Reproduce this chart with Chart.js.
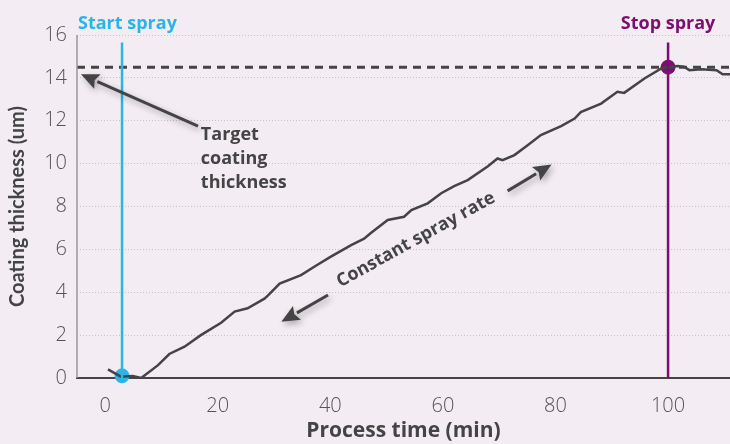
<!DOCTYPE html>
<html lang="en">
  <head>
    <meta charset="UTF-8" />
    <script src="https://cdn.jsdelivr.net/npm/chart.js@4.4.0/dist/chart.umd.min.js"></script>
    <title>Coating thickness</title>
    <style>
      body {
        margin: 0;
        padding: 0;
        background: #f3ecf3;
        overflow: hidden;
      }
      .container {
        width: 730px;
        height: 444px;
      }
    </style>
  </head>
  <body>
    <div class="container">
      <canvas id="chart" width="730" height="444"></canvas>
    </div>
    <script>
      const timeVals = [0.5, 2.8, 4.9, 6.4, 9.4, 11.4, 14.1, 17.0, 20.6, 23.0, 25.3, 28.3, 28.9, 31.0, 34.8, 37.5, 40.1, 43.7, 46.0, 47.2, 50.2, 53.1, 54.4, 57.3, 59.7, 62.0, 64.4, 68.0, 69.7, 70.6, 72.7, 75.0, 77.4, 81.0, 83.4, 84.5, 88.1, 91.0, 92.2, 95.8, 98.8, 100.0, 101.7, 102.8, 103.8, 105.9, 108.6, 109.7, 111.2]
      const thicknessVals = [0.4, 0.06, 0.09, 0, 0.6, 1.12, 1.46, 2.0, 2.58, 3.1, 3.25, 3.7, 3.84, 4.4, 4.8, 5.25, 5.66, 6.2, 6.5, 6.76, 7.37, 7.52, 7.83, 8.15, 8.62, 8.95, 9.23, 9.88, 10.24, 10.16, 10.4, 10.85, 11.33, 11.75, 12.1, 12.4, 12.8, 13.35, 13.3, 13.97, 14.44, 14.5, 14.55, 14.52, 14.36, 14.4, 14.36, 14.17, 14.17]
      const xTickLabels = [0, 20, 40, 60, 80, 100]
      const targetThickness = 14.5
      const startTime = 3
      const stopTime = 100

      const font = '"Open Sans"'
      const dark = '#444444'
      const blue = '#29b5e8'
      const purple = '#7b0f6f'

      const arrow = (ctx, x1, y1, x2, y2) => {
        const a = Math.atan2(y2 - y1, x2 - x1)
        const head = 18
        const bx = x2 - head * Math.cos(a)
        const by = y2 - head * Math.sin(a)
        ctx.beginPath()
        ctx.moveTo(x1, y1)
        ctx.lineTo(bx, by)
        ctx.stroke()
        ctx.beginPath()
        ctx.moveTo(x2, y2)
        ctx.lineTo(bx + 8 * Math.sin(a), by - 8 * Math.cos(a))
        ctx.lineTo(bx + 3 * Math.cos(a), by + 3 * Math.sin(a))
        ctx.lineTo(bx - 8 * Math.sin(a), by + 8 * Math.cos(a))
        ctx.closePath()
        ctx.fill()
      }

      const notes = {
        id: 'notes',
        beforeDraw(chart) {
          const ctx = chart.ctx
          ctx.save()
          ctx.fillStyle = '#f3ecf3'
          ctx.fillRect(0, 0, chart.width, chart.height)
          ctx.restore()
        },
        afterDatasetsDraw(chart) {
          const { ctx, chartArea, scales } = chart
          const px = (v) => scales.x.getPixelForValue(v)
          const py = (v) => scales.y.getPixelForValue(v)
          ctx.save()

          // left axis line, solid grey
          ctx.strokeStyle = '#999999'
          ctx.lineWidth = 1.5
          ctx.beginPath()
          ctx.moveTo(chartArea.left, chartArea.top)
          ctx.lineTo(chartArea.left, chartArea.bottom)
          ctx.stroke()

          ctx.font = `bold 18px ${font}`
          ctx.textBaseline = 'middle'
          ctx.fillStyle = blue
          ctx.textAlign = 'left'
          ctx.fillText('Start spray', chartArea.left + 1, 24)
          ctx.fillStyle = purple
          ctx.textAlign = 'center'
          ctx.fillText('Stop spray', px(stopTime), 24)

          ctx.fillStyle = dark
          ctx.textAlign = 'left'
          ;['Target', 'coating', 'thickness'].forEach((t, i) => {
            ctx.fillText(t, px(17.0), py(11.33) + i * 24)
          })

          ctx.save()
          ctx.translate(px(55.2), py(6.45))
          ctx.rotate(-29 * Math.PI / 180)
          ctx.textAlign = 'center'
          ctx.fillText('Constant spray rate', 0, 0)
          ctx.restore()

          ctx.strokeStyle = dark
          ctx.fillStyle = dark
          ctx.lineWidth = 3
          ctx.shadowColor = 'rgba(0,0,0,0.3)'
          ctx.shadowBlur = 6
          ctx.shadowOffsetX = 2
          ctx.shadowOffsetY = 3
          arrow(ctx, px(16.5), py(11.75), px(-4.3), py(14.17))
          arrow(ctx, px(39.6), py(3.87), px(31.3), py(2.62))
          arrow(ctx, px(71.5), py(8.73), px(79.3), py(9.96))
          ctx.restore()
        },
      }

      const ctx = document.getElementById('chart').getContext('2d')
      const chart = new Chart(ctx, {
        type: 'line',
        data: {
          datasets: [
            {
              data: [{ x: startTime, y: 0 }, { x: startTime, y: 15.65 }],
              borderColor: blue,
              borderWidth: 2.5,
              pointRadius: 0,
            },
            {
              data: [{ x: stopTime, y: 0 }, { x: stopTime, y: 15.65 }],
              borderColor: purple,
              borderWidth: 2.5,
              pointRadius: 0,
            },
            {
              data: [{ x: -5, y: targetThickness }, { x: 111, y: targetThickness }],
              borderColor: dark,
              borderWidth: 3,
              borderDash: [8, 6],
              pointRadius: 0,
            },
            {
              data: timeVals.map((t, i) => ({ x: t, y: thicknessVals[i] })),
              borderColor: dark,
              borderWidth: 2.5,
              pointRadius: 0,
              tension: 0,
            },
            {
              data: [{ x: startTime, y: 0.1 }],
              backgroundColor: blue,
              borderColor: blue,
              pointRadius: 7,
              clip: false,
            },
            {
              data: [{ x: stopTime, y: targetThickness }],
              backgroundColor: purple,
              borderColor: purple,
              pointRadius: 7,
              clip: false,
            },
          ],
        },
        options: {
          responsive: false,
          devicePixelRatio: 1,
          animation: false,
          layout: {
            autoPadding: false,
            padding: { top: 35, right: 0, left: 0, bottom: 0 },
          },
          plugins: {
            legend: { display: false },
            tooltip: { enabled: false },
          },
          scales: {
            x: {
              type: 'linear',
              min: -5,
              max: 111,
              afterBuildTicks: (s) => {
                s.ticks = xTickLabels.map((v) => ({ value: v }))
              },
              afterFit: (s) => {
                s.height = 66
                s.paddingLeft = 0
                s.paddingRight = 0
              },
              grid: { display: false },
              border: { color: dark, width: 2 },
              ticks: {
                padding: 8,
                color: '#555555',
                font: { family: font, size: 20, weight: 300 },
              },
              title: {
                display: true,
                text: 'Process time (min)',
                color: dark,
                font: { family: font, size: 21, weight: 'bold' },
                padding: 0,
              },
            },
            y: {
              min: 0,
              max: 16,
              afterFit: (s) => {
                s.width = 77
              },
              ticks: {
                stepSize: 2,
                padding: 10,
                color: '#555555',
                font: { family: font, size: 20, weight: 300 },
              },
              grid: {
                drawTicks: false,
                color: '#c9c1c9',
                lineWidth: 1,
              },
              border: { display: false, dash: [1, 2] },
              title: {
                display: true,
                text: 'Coating thickness (um)',
                color: dark,
                font: { family: 'Lato', size: 20, weight: 'bold' },
                padding: 6,
              },
            },
          },
        },
        plugins: [notes],
      })
    </script>
  </body>
</html>
